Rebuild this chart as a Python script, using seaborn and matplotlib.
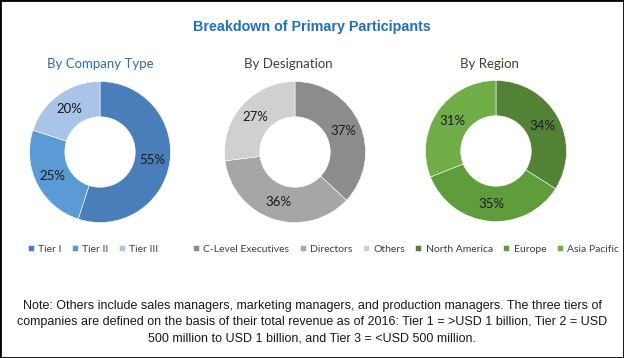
import matplotlib
matplotlib.use("Agg")
import matplotlib.pyplot as plt
from matplotlib.patches import Rectangle
import seaborn as sns

# data
company_labels = ["Tier I", "Tier II", "Tier III"]
company_values = [55, 25, 20]
designation_labels = ["C-Level Executives", "Directors", "Others"]
designation_values = [37, 36, 27]
region_labels = ["North America", "Europe", "Asia Pacific"]
region_values = [34, 35, 31]

company_colors = ["#4a7ebb", "#5b9bd5", "#a9c4e8"]
designation_colors = ["#8c8c8c", "#a6a6a6", "#d0d0d0"]
region_colors = ["#548235", "#5f9c3c", "#70ad47"]

note = ("Note: Others include sales managers, marketing managers, and production managers. The three tiers of\n"
        "companies are defined on the basis of their total revenue as of 2016: Tier 1 = >USD 1 billion, Tier 2 = USD\n"
        "500 million to USD 1 billion, and Tier 3 = <USD 500 million.")

sns.set_theme(style="white")
plt.rcParams["font.family"] = ["Lato", "DejaVu Sans"]

W, H = 624, 358
fig = plt.figure(figsize=(W / 100, H / 100), dpi=100)
fig.patch.set_facecolor("white")

panels = [
    (company_values, company_labels, sns.color_palette(company_colors), 100, 152,
     "By Company Type", "#2e6db4", 100, 93),
    (designation_values, designation_labels, sns.color_palette(designation_colors), 295, 152,
     "By Designation", "#404040", 288, 299),
    (region_values, region_labels, sns.color_palette(region_colors), 496, 151,
     "By Region", "#3b4a22", 489, 517),
]

r = 70.5
for vals, labels, cols, cx, cy, sub, subcol, subx, legx in panels:
    ax = fig.add_axes([(cx - r) / W, 1 - (cy + r) / H, 2 * r / W, 2 * r / H])
    wedges, texts, autotexts = ax.pie(
        vals, colors=cols, startangle=90, counterclock=False,
        autopct="%d%%", pctdistance=0.75,
        wedgeprops=dict(width=0.5, edgecolor="white", linewidth=0.4),
        textprops=dict(fontsize=9.5, color="#1a1a1a"))
    ax.set_xlim(-1, 1)
    ax.set_ylim(-1, 1)
    ax.axis("off")
    fig.text(subx / W, 1 - 64 / H, sub, ha="center", va="center",
             fontsize=9.5, color=subcol)
    fig.legend(wedges, labels, loc="center", bbox_to_anchor=(legx / W, 1 - 249 / H),
               ncol=3, frameon=False, fontsize=7.5, handlelength=0.6, handleheight=0.6,
               handletextpad=0.4, columnspacing=1.0, labelcolor="#404040",
               borderpad=0)

fig.text(312 / W, 1 - 27 / H, "Breakdown of Primary Participants", ha="center", va="center",
         fontsize=10.3, fontweight="bold", color="#1f6fbf",
         family=["Liberation Sans Narrow", "Liberation Sans", "DejaVu Sans"])

fig.text(312 / W, 1 - 322 / H, note, ha="center", va="center", fontsize=9,
         color="#1a1a1a", linespacing=1.45,
         family=["Liberation Sans Narrow", "Liberation Sans", "DejaVu Sans"])

fig.patches.append(Rectangle((0, 0), 1, 1, transform=fig.transFigure, fill=False,
                             edgecolor="black", linewidth=2))

fig.savefig("out.png", dpi=100)
